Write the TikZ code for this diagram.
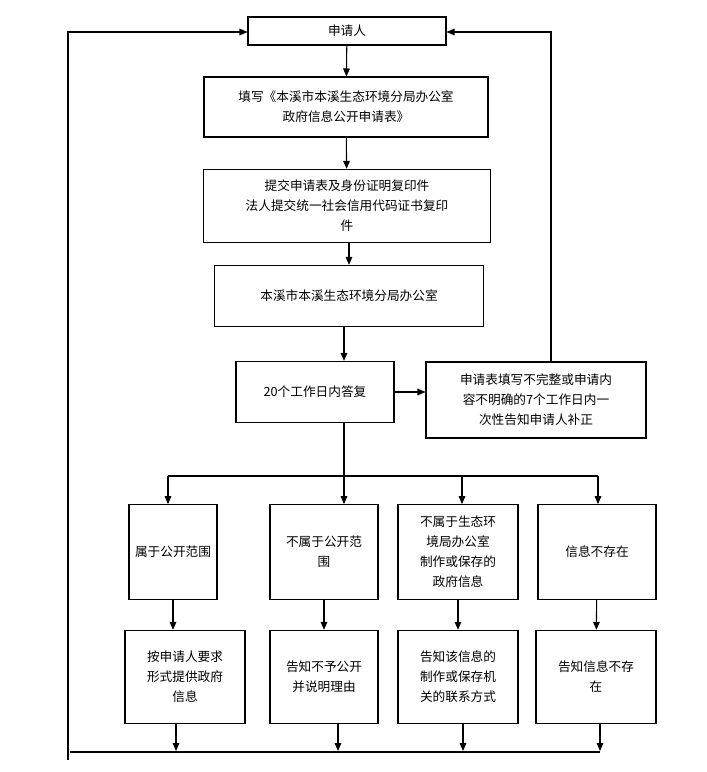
\documentclass[tikz,border=0pt]{standalone}
\usepackage{fontspec}
\setmainfont{Noto Sans CJK SC}
\usetikzlibrary{arrows.meta}
\begin{document}
\begin{tikzpicture}[x=0.75pt,y=-0.75pt,
  bx/.style={draw,line width=0.8pt,align=center,font=\fontsize{9.5}{15}\selectfont,inner sep=0pt},
  ar/.style={line width=0.8pt,-{Triangle[length=6pt,width=5pt]}},
  ln/.style={line width=0.8pt}]
\useasboundingbox (0,0) rectangle (707,772);
\newcommand{\bxat}[5]{\node[bx,minimum width=#3*0.75pt,minimum height=#4*0.75pt,text width=#3*0.75pt-10pt] (#5) at (#1,#2) {};}
\node[bx,minimum width=148.5pt,minimum height=21pt] (a) at (347,31) {申请人};
\node[bx,minimum width=213pt,minimum height=45pt] (b) at (346,107) {填写《本溪市本溪生态环境分局办公室\\政府信息公开申请表》};
\node[bx,minimum width=215pt,minimum height=55pt] (c) at (347,206) {提交申请表及身份证明复印件\\法人提交统一社会信用代码证书复印\\件};
\node[bx,minimum width=202pt,minimum height=46pt] (d) at (349,296) {本溪市本溪生态环境分局办公室};
\node[bx,minimum width=118.5pt,minimum height=46pt] (e) at (315,392) {20个工作日内答复};
\node[bx,minimum width=165pt,minimum height=57pt] (f) at (536,400) {申请表填写不完整或申请内\\容不明确的7个工作日内一\\次性告知申请人补正};
\node[bx,minimum width=66pt,minimum height=71pt] (g1) at (173,552) {属于公开范围};
\node[bx,minimum width=81pt,minimum height=71pt] (g2) at (324,552) {不属于公开范\\围};
\node[bx,minimum width=90pt,minimum height=71pt] (g3) at (458,552) {不属于生态环\\境局办公室\\制作或保存的\\政府信息};
\node[bx,minimum width=88.5pt,minimum height=71pt] (g4) at (597,552) {信息不存在};
\node[bx,minimum width=90pt,minimum height=70pt] (h1) at (185,677) {按申请人要求\\形式提供政府\\信息};
\node[bx,minimum width=81pt,minimum height=70pt] (h2) at (324,677) {告知不予公开\\并说明理由};
\node[bx,minimum width=90pt,minimum height=70pt] (h3) at (458,677) {告知该信息的\\制作或保存机\\关的联系方式};
\node[bx,minimum width=90pt,minimum height=70pt] (h4) at (596,677) {告知信息不存\\在};
\draw[ar] (a) -- (b);
\draw[ar] (b) -- (c);
\draw[ar] (c.south -| d) -- (d);
\draw[ar] (d.south -| 344,0) -- (e.north -| 344,0);
\draw[ar] (e) -- (f.west |- e);
\draw[ar] (f.north -| 551,0) -- (551,32) -- (a.east |- 0,32);
\coordinate (s) at (344,476);
\draw[ln] (e.south -| s) -- (s);
\draw[ln] (168,476) -- (598,476);
\draw[ar] (168,476) -- (g1.north -| 168,0);
\draw[ar] (s) -- (g2.north -| 344,0);
\draw[ar] (462,476) -- (g3.north -| 462,0);
\draw[ar] (598,476) -- (g4.north -| 598,0);
\draw[ar] (g1) -- (g1 |- h1.north);
\draw[ar] (g2) -- (h2);
\draw[ar] (g3) -- (h3);
\draw[ar] (g4) -- (h4);
\coordinate (bl) at (70,752);
\draw[ar] (h1.south -| 176,0) -- (176,751);
\draw[ar] (h2.south -| 338,0) -- (338,751);
\draw[ar] (h3.south -| 463,0) -- (463,751);
\draw[ar] (h4.south -| 600,0) -- (600,751);
\draw[ln] (600,752) -- (bl);
\draw[ar] (68,760) -- (68,32) -- (a.west |- 0,32);
\end{tikzpicture}
\end{document}
